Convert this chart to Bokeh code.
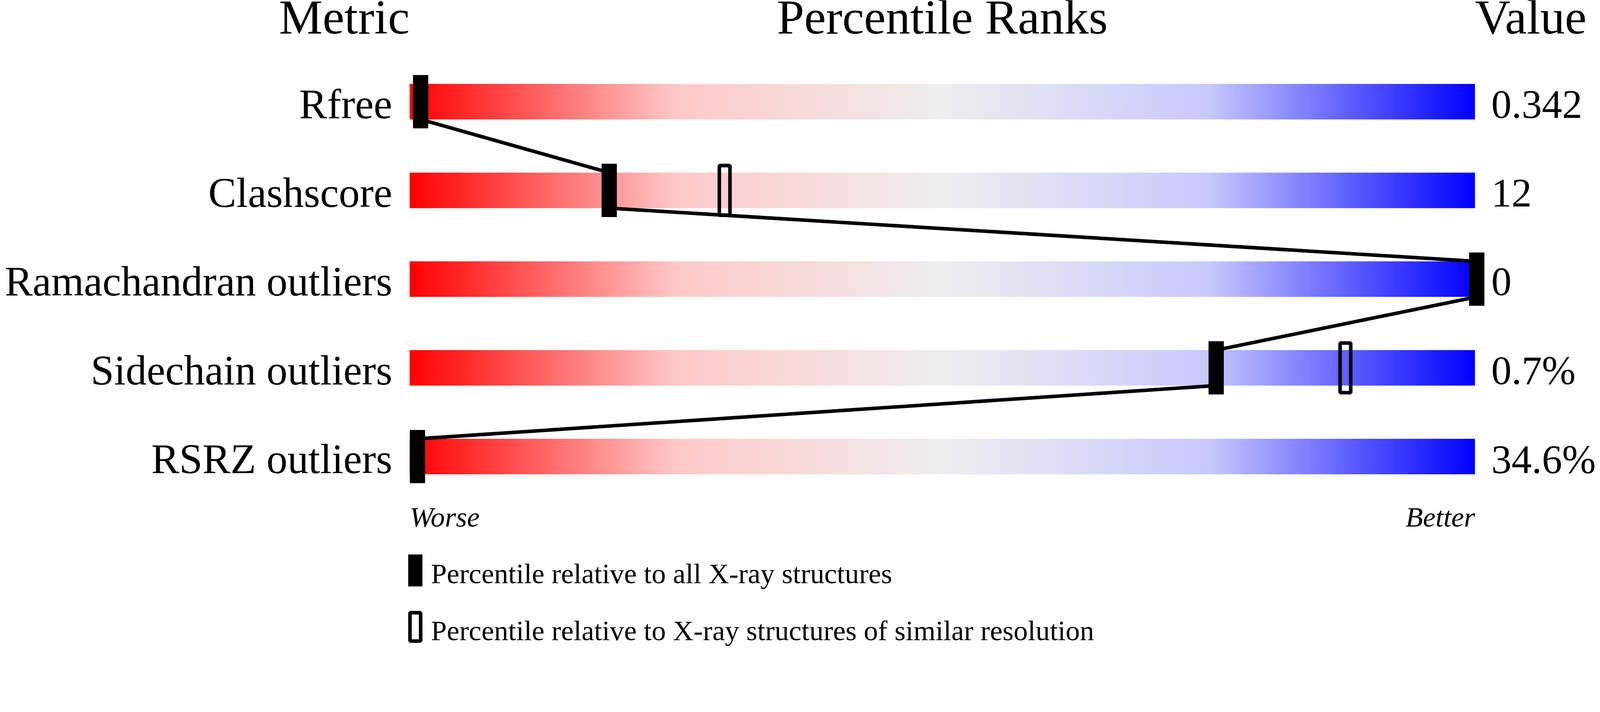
import numpy as np
from bokeh.plotting import figure
from bokeh.models import Range1d
from bokeh.core.properties import value
from bokeh.embed import file_html
from bokeh.resources import INLINE

# ---------------- data ----------------
metrics = ["Rfree", "Clashscore", "Ramachandran outliers", "Sidechain outliers", "RSRZ outliers"]
metric_values = ["0.342", "12", "0", "0.7%", "34.6%"]
pct_all = [0.3, 18.1, 100.0, 75.4, 0.0]          # percentile vs all X-ray structures
pct_similar = [None, 29.0, None, 87.6, None]     # percentile vs similar resolution
column_titles = ["Metric", "Percentile Ranks", "Value"]
scale_ends = ["Worse", "Better"]
legend_labels = ["Percentile relative to all X-ray structures",
                 "Percentile relative to X-ray structures of similar resolution"]

# gradient colour stops of the slider bars
grad_pos = [0.0, 0.25, 0.5, 0.75, 1.0]
grad_r = [255, 255, 238, 200, 0]
grad_g = [0, 200, 238, 200, 0]
grad_b = [0, 200, 238, 255, 255]

# ---------------- layout ----------------
S = 1.1                      # picture pixels per CSS pixel
W, H = 4088, 1660            # CSS size of the figure
PX_PER_PCT = 29.83           # picture px per percentile
X_P0 = 1175                  # picture x of percentile 0
ROW0_Y = 286                 # picture y of first row centre
ROW_STEP = 250
FONT = value("Liberation Serif")
BASE_FIX = -0.37             # baseline correction (fraction of font size)


def sx(X):
    return (X - X_P0) / PX_PER_PCT


def sy(Y):
    return (Y - ROW0_Y) / ROW_STEP


def css(v):
    return v / S


p = figure(width=W, height=H,
           x_range=Range1d(sx(0), sx(W * S)),
           y_range=Range1d(sy(H * S), sy(0)),
           output_backend="svg", toolbar_location=None, min_border=0,
           x_axis_location=None, y_axis_location=None,
           outline_line_color=None, background_fill_color="white",
           border_fill_color="white")
p.xgrid.visible = False
p.ygrid.visible = False

rows = np.arange(len(metrics), dtype=float)
BAR_HALF = 50 / ROW_STEP
BAR_X0, BAR_X1 = sx(1153), sx(4153)

# gradient bars
N = 500
edges = np.linspace(BAR_X0, BAR_X1, N + 1)
frac = (np.arange(N) + 0.5) / N
r = np.interp(frac, grad_pos, grad_r)
g = np.interp(frac, grad_pos, grad_g)
b = np.interp(frac, grad_pos, grad_b)
cols = ["#%02x%02x%02x" % (int(round(a)), int(round(c)), int(round(d))) for a, c, d in zip(r, g, b)]
lefts = edges[:-1]
rights = edges[1:].copy()
rights[:-1] += 1.2 / PX_PER_PCT
L, R, T, B, C = [], [], [], [], []
for yv in rows:
    L.extend(lefts); R.extend(rights)
    T.extend([yv - BAR_HALF] * N); B.extend([yv + BAR_HALF] * N)
    C.extend(cols)
p.quad(left=L, right=R, top=T, bottom=B, fill_color=C, line_color=None)

# connecting line (bottom of one bar to top of the next)
x0 = pct_all[:-1]; x1 = pct_all[1:]
y0 = list(rows[:-1] + BAR_HALF); y1 = list(rows[1:] - BAR_HALF)
p.segment(x0=x0, y0=y0, x1=x1, y1=y1, line_color="black", line_width=css(10))

# open markers (similar resolution)
sim_x = [v for v in pct_similar if v is not None]
sim_y = [rows[i] for i, v in enumerate(pct_similar) if v is not None]
p.rect(x=sim_x, y=sim_y, width=css(30), height=css(140), width_units="screen", height_units="screen",
       fill_alpha=0, line_color="black", line_width=css(10))

# filled markers (all X-ray)
p.rect(x=pct_all, y=list(rows), width=css(43), height=css(150), width_units="screen",
       height_units="screen", fill_color="black", line_color=None)


def txt(xs, ys, texts, size, align, italic=False):
    fs = css(size)
    p.text(x=xs, y=ys, text=texts, text_font=FONT, text_font_size=value("%.1fpx" % fs),
           text_font_style="italic" if italic else "normal",
           text_align=align, text_baseline="alphabetic", text_color="black",
           y_offset=BASE_FIX * fs)


# column titles
ty = sy(98)
txt([sx(1153)], [ty], [column_titles[0]], 138, "right")
txt([sx(2653)], [ty], [column_titles[1]], 138, "center")
txt([sx(4153)], [ty], [column_titles[2]], 138, "left")

# metric labels and values
txt([sx(1104)] * len(metrics), list(rows + BAR_HALF), metrics, 118, "right")
txt([sx(4199)] * len(metrics), list(rows + BAR_HALF), metric_values, 114, "left")

# Worse / Better
txt([sx(1153)], [sy(1486)], [scale_ends[0]], 80, "left", italic=True)
txt([sx(4153)], [sy(1486)], [scale_ends[1]], 80, "right", italic=True)

# legend
p.rect(x=[sx(1169)], y=[sy(1607)], width=css(40), height=css(90), width_units="screen",
       height_units="screen", fill_color="black", line_color=None)
p.rect(x=[sx(1169)], y=[sy(1766)], width=css(30), height=css(80), width_units="screen",
       height_units="screen", fill_alpha=0, line_color="black", line_width=css(10))
txt([sx(1213), sx(1213)], [sy(1646), sy(1806)], legend_labels, 80, "left")

open("out.html", "w").write(file_html(p, INLINE))
